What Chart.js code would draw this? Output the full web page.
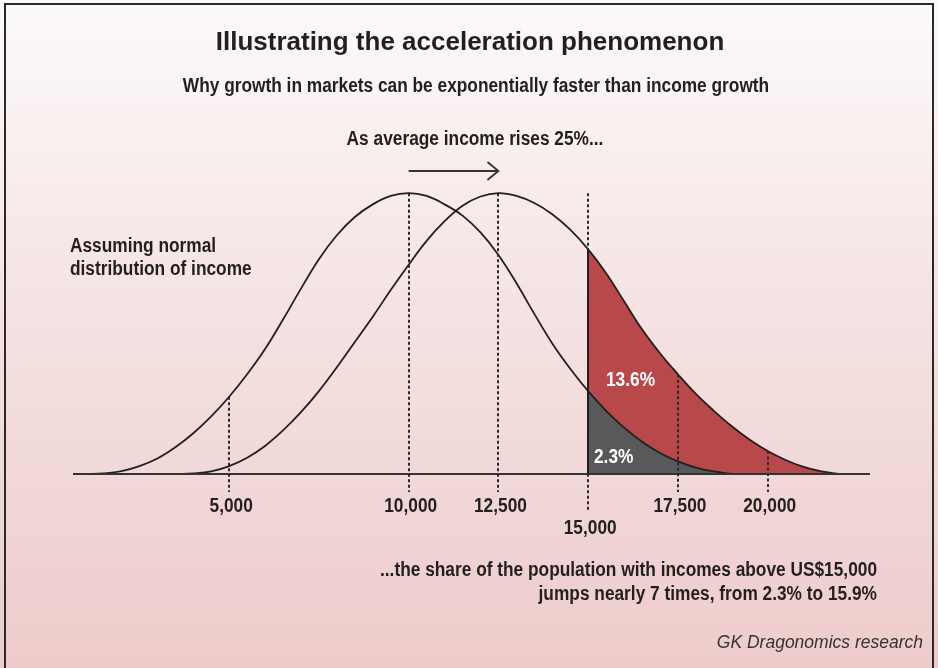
<!DOCTYPE html>
<html>
<head>
<meta charset="utf-8">
<title>Illustrating the acceleration phenomenon</title>
<script src="https://cdn.jsdelivr.net/npm/chart.js@4.4.0/dist/chart.umd.min.js"></script>
<style>
  html, body { margin: 0; padding: 0; background: #fff; }
  #wrap { position: relative; width: 938px; height: 668px; }
</style>
</head>
<body>
<div id="wrap"><canvas id="accelChart" width="938" height="668"></canvas></div>
<script>
// income distribution before the rise (mean ~10,000), sampled every US$500
var incomeBefore = [1000, 1500, 2000, 2500, 3000, 3500, 4000, 4500, 5000, 5500,
    6000, 6500, 7000, 7500, 8000, 8500, 9000, 9500, 10000, 10500,
    11000, 11500, 12000, 12500, 13000, 13500, 14000, 14500, 15000, 15500,
    16000, 16500, 17000, 17500, 18000, 18500, 19000];
// curve height, % of the peak
var heightBefore = [0, 0.2, 1, 2.8, 5.5, 9.5, 14.5, 20.5, 27.5, 35.5,
    44.5, 55, 66, 76.5, 85, 91.5, 96, 99, 100, 99,
    96, 92, 86, 78, 68, 57, 46.5, 37.5, 29.5, 22.5,
    16.5, 11.5, 7.5, 4.5, 2.3, 0.9, 0];

// income distribution after a 25% rise (mean ~12,500)
var incomeAfter = [3500, 4000, 4500, 5000, 5500, 6000, 6500, 7000, 7500, 8000,
    8500, 9000, 9500, 10000, 10500, 11000, 11500, 12000, 12500, 13000,
    13500, 14000, 14500, 15000, 15500, 16000, 16500, 17000, 17500, 18000,
    18500, 19000, 19500, 20000, 20500, 21000, 21500, 22000];
var heightAfter = [0, 0.2, 0.9, 2.8, 5.8, 10, 15.5, 22, 29.5, 38,
    47, 56, 65.5, 74.5, 83, 90, 95.5, 98.8, 100, 99,
    96.5, 92.5, 87, 80, 71.5, 61.5, 51.5, 43, 35.5, 28.5,
    22.5, 17, 12.2, 8.2, 5, 2.5, 0.9, 0];

var tickValues = [5000, 10000, 12500, 15000, 17500, 20000];
var tickLabels = ['5,000', '10,000', '12,500', '15,000', '17,500', '20,000'];

var threshold = 15000;
var meanBefore = 10000;
var meanAfter = 12500;
var shareBefore = '2.3%';
var shareGained = '13.6%';

var ink = '#231f20';
var redFill = '#b9484a';
var greyFill = '#58595b';

function toPoints(xs, ys) {
    return xs.map(function (x, i) { return { x: x, y: ys[i] }; });
}

function tailPoints(xs, ys) {
    // only the part of the curve above the threshold
    return toPoints(xs, ys).filter(function (p) { return p.x >= threshold; });
}

function heightAt(xs, ys, v) {
    var i = xs.indexOf(v);
    return i < 0 ? 0 : ys[i];
}

// draws (optionally squeezed) text
function txt(ctx, s, x, y, size, align, opts) {
    opts = opts || {};
    ctx.save();
    ctx.font = (opts.italic ? 'italic ' : '') + (opts.bold === false ? '' : 'bold ') + size + 'px "Liberation Sans", Arial, sans-serif';
    ctx.fillStyle = opts.color || ink;
    ctx.textAlign = align;
    ctx.textBaseline = 'alphabetic';
    ctx.translate(x, y);
    ctx.scale(opts.sx || 1, 1);
    ctx.fillText(s, 0, 0);
    ctx.restore();
}

var decor = {
    id: 'decor',
    beforeDraw: function (chart) {
        var ctx = chart.ctx;
        var g = ctx.createLinearGradient(0, 0, 0, chart.height);
        g.addColorStop(0, '#fcfafa');
        g.addColorStop(0.45, '#f5e3e3');
        g.addColorStop(1, '#eecbcb');
        ctx.save();
        ctx.fillStyle = g;
        ctx.fillRect(0, 0, chart.width, chart.height);
        ctx.strokeStyle = '#2a2a2a';
        ctx.lineWidth = 2;
        ctx.strokeRect(5, 4, 928, 700);
        ctx.restore();
    },
    afterDatasetsDraw: function (chart) {
        var ctx = chart.ctx;
        var xs = chart.scales.x, ys = chart.scales.y;
        var area = chart.chartArea;
        var y0 = ys.getPixelForValue(0);
        var peak = Math.max.apply(null, heightAfter);
        var sq = 0.865;

        ctx.save();
        // axis
        ctx.strokeStyle = '#333';
        ctx.lineWidth = 2;
        ctx.beginPath();
        ctx.moveTo(area.left, y0);
        ctx.lineTo(area.right, y0);
        ctx.stroke();

        // dashed guides
        ctx.strokeStyle = '#2a2a2a';
        ctx.lineWidth = 2;
        ctx.setLineDash([3, 2.5]);
        tickValues.forEach(function (v) {
            var px = Math.round(xs.getPixelForValue(v));
            var top = Math.max(heightAt(incomeBefore, heightBefore, v), heightAt(incomeAfter, heightAfter, v));
            var bottom = y0 + 18;
            if (v === threshold) { top = peak; bottom = y0 + 36; }
            ctx.beginPath();
            ctx.moveTo(px, ys.getPixelForValue(top));
            ctx.lineTo(px, bottom);
            ctx.stroke();
        });
        ctx.setLineDash([]);

        // solid left edge of the shaded area
        var tx = Math.round(xs.getPixelForValue(threshold));
        ctx.strokeStyle = ink;
        ctx.beginPath();
        ctx.moveTo(tx, ys.getPixelForValue(heightAt(incomeAfter, heightAfter, threshold)));
        ctx.lineTo(tx, y0);
        ctx.stroke();

        // arrow between the two means
        var ax1 = xs.getPixelForValue(meanBefore), ax2 = xs.getPixelForValue(meanAfter);
        var ay = 171;
        ctx.strokeStyle = '#333';
        ctx.lineWidth = 1.8;
        ctx.beginPath();
        ctx.moveTo(ax1, ay);
        ctx.lineTo(ax2, ay);
        ctx.moveTo(ax2 - 11, ay - 9);
        ctx.lineTo(ax2, ay);
        ctx.lineTo(ax2 - 11, ay + 9);
        ctx.stroke();
        ctx.restore();

        // tick labels (threshold label dropped one line)
        tickValues.forEach(function (v, i) {
            var px = xs.getPixelForValue(v);
            var by = v === threshold ? y0 + 60 : y0 + 38;
            txt(ctx, tickLabels[i], px + 2, by, 20, 'center', { sx: sq });
        });

        // shares inside the shaded area
        txt(ctx, shareGained, tx + 18, 386, 20, 'left', { sx: sq, color: '#fff' });
        txt(ctx, shareBefore, tx + 6, 463, 20, 'left', { sx: sq, color: '#fff' });

        // annotations
        txt(ctx, 'Illustrating the acceleration phenomenon', 470, 50, 26, 'center');
        txt(ctx, 'Why growth in markets can be exponentially faster than income growth', 476, 92, 20, 'center', { sx: sq });
        txt(ctx, 'As average income rises 25%...', 475, 145, 20, 'center', { sx: sq });
        txt(ctx, 'Assuming normal', 70, 252, 20, 'left', { sx: sq });
        txt(ctx, 'distribution of income', 70, 275, 20, 'left', { sx: sq });
        txt(ctx, '...the share of the population with incomes above US$15,000', 877, 576, 20, 'right', { sx: sq });
        txt(ctx, 'jumps nearly 7 times, from 2.3% to 15.9%', 877, 600, 20, 'right', { sx: sq });
        txt(ctx, 'GK Dragonomics research', 923, 648, 17.5, 'right', { bold: false, italic: true, color: '#333' });
    }
};

const ctx = document.getElementById('accelChart');
const accelChart = new Chart(ctx, {
    type: 'line',
    data: {
        datasets: [{
            label: 'Before',
            data: toPoints(incomeBefore, heightBefore),
            borderColor: ink,
            borderWidth: 1.8,
            fill: false,
            order: 0
        }, {
            label: 'After',
            data: toPoints(incomeAfter, heightAfter),
            borderColor: ink,
            borderWidth: 1.8,
            fill: false,
            order: 0
        }, {
            label: 'Share above 15,000 after',
            data: tailPoints(incomeAfter, heightAfter),
            borderWidth: 0,
            borderColor: 'rgba(0,0,0,0)',
            backgroundColor: redFill,
            fill: 'origin',
            order: 2
        }, {
            label: 'Share above 15,000 before',
            data: tailPoints(incomeBefore, heightBefore),
            borderWidth: 0,
            borderColor: 'rgba(0,0,0,0)',
            backgroundColor: greyFill,
            fill: 'origin',
            order: 1
        }]
    },
    options: {
        responsive: false,
        animation: false,
        events: [],
        elements: { point: { radius: 0 }, line: { tension: 0.4 } },
        layout: { padding: { left: 73, right: 68, top: 151, bottom: 194 } },
        scales: {
            x: { type: 'linear', min: 650, max: 22850, display: false },
            y: { min: 0, max: 115, display: false }
        },
        plugins: {
            legend: { display: false },
            tooltip: { enabled: false }
        }
    },
    plugins: [decor]
});
</script>
</body>
</html>
